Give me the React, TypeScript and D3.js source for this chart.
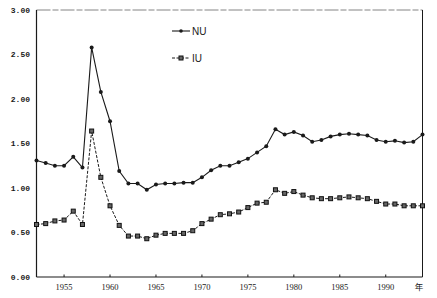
import React from "react";
import * as d3 from "d3";

const years: number[] = d3.range(1952, 1995);
const nuValues: number[] = [
  1.31, 1.28, 1.25, 1.25, 1.35, 1.23, 2.58, 2.08, 1.75, 1.19,
  1.05, 1.05, 0.98, 1.04, 1.05, 1.05, 1.06, 1.06, 1.12, 1.2,
  1.25, 1.25, 1.29, 1.33, 1.4, 1.47, 1.66, 1.6, 1.63, 1.59,
  1.52, 1.54, 1.58, 1.6, 1.61, 1.6, 1.59, 1.54, 1.52, 1.53,
  1.51, 1.52, 1.6,
];
const iuValues: number[] = [
  0.59, 0.6, 0.63, 0.64, 0.74, 0.59, 1.64, 1.12, 0.8, 0.58,
  0.46, 0.46, 0.43, 0.47, 0.49, 0.49, 0.49, 0.52, 0.6, 0.65,
  0.7, 0.71, 0.73, 0.78, 0.83, 0.84, 0.98, 0.94, 0.96, 0.92,
  0.89, 0.88, 0.88, 0.89, 0.9, 0.89, 0.88, 0.85, 0.82, 0.82,
  0.8, 0.8, 0.8,
];
const yTicks: number[] = [0, 0.5, 1, 1.5, 2, 2.5, 3];
const xTicks: number[] = [1955, 1960, 1965, 1970, 1975, 1980, 1985, 1990];
const seriesNames: string[] = ["NU", "IU"];
const yearUnit = "年";

export default function App() {
  const W = 437;
  const H = 298;
  const left = 36.5;
  const right = 422.5;
  const top = 10;
  const bottom = 277;
  const x = d3.scaleLinear().domain([1952, 1994]).range([left, right]);
  const y = d3.scaleLinear().domain([0, 3]).range([bottom, top]);
  const line = d3
    .line<number>()
    .x((_, i) => x(years[i]))
    .y((d) => y(d));

  const ink = "#1a1a1a";
  const sq = 4;

  return (
    <svg
      width={W}
      height={H}
      style={{ position: "absolute", left: 0, top: 0, background: "#fff" }}
    >
      {/* frame */}
      <line x1={left} x2={right} y1={top} y2={top} stroke="#777" strokeWidth={0.9} strokeDasharray="14 2 6 2" />
      <line x1={right} x2={right} y1={top} y2={bottom} stroke={ink} strokeWidth={1} />
      <line x1={left} x2={left} y1={top} y2={bottom} stroke={ink} strokeWidth={1.2} />
      <line x1={left} x2={right} y1={bottom} y2={bottom} stroke={ink} strokeWidth={1.2} />

      {/* y ticks */}
      {yTicks.map((t) => (
        <text
          key={t}
          x={30}
          y={y(t)}
          dy="0.35em"
          textAnchor="end"
          fontFamily="Liberation Mono"
          fontSize={8}
          fontWeight="bold"
          fill={ink}
        >
          {d3.format(".2f")(t)}
        </text>
      ))}

      {/* x ticks */}
      {xTicks.map((t) => (
        <g key={t}>
          <line x1={x(t)} x2={x(t)} y1={bottom} y2={bottom - 2.5} stroke={ink} strokeWidth={1} />
          <text
            x={x(t)}
            y={289.5}
            textAnchor="middle"
            fontFamily="Liberation Serif"
            fontSize={8.5}
            fill={ink}
          >
            {t}
          </text>
        </g>
      ))}
      <text x={419} y={289.5} textAnchor="middle" fontFamily="Noto Sans CJK SC" fontSize={8.5} fill={ink}>
        {yearUnit}
      </text>

      {/* NU series */}
      <path d={line(nuValues) || ""} fill="none" stroke={ink} strokeWidth={1.1} />
      {nuValues.map((v, i) => (
        <circle key={"n" + i} cx={x(years[i])} cy={y(v)} r={2} fill={ink} />
      ))}

      {/* IU series */}
      <path d={line(iuValues) || ""} fill="none" stroke={ink} strokeWidth={1} strokeDasharray="3 1.5" />
      {iuValues.map((v, i) => (
        <rect
          key={"i" + i}
          x={x(years[i]) - sq / 2}
          y={y(v) - sq / 2}
          width={sq}
          height={sq}
          fill="#666"
          stroke="#111"
          strokeWidth={1}
        />
      ))}

      {/* legend */}
      <line x1={172} x2={190} y1={31} y2={31} stroke={ink} strokeWidth={1.1} />
      <circle cx={181} cy={31} r={1.8} fill={ink} />
      <text x={192} y={31} dy="0.35em" fontFamily="Liberation Sans" fontSize={10} fill={ink}>
        {seriesNames[0]}
      </text>
      <line x1={172} x2={190} y1={58} y2={58} stroke={ink} strokeWidth={1} strokeDasharray="3 1.5" />
      <rect x={181 - sq / 2} y={58 - sq / 2} width={sq} height={sq} fill="#666" stroke="#111" strokeWidth={1} />
      <text x={192} y={58} dy="0.35em" fontFamily="Liberation Sans" fontSize={10} fill={ink}>
        {seriesNames[1]}
      </text>
    </svg>
  );
}
